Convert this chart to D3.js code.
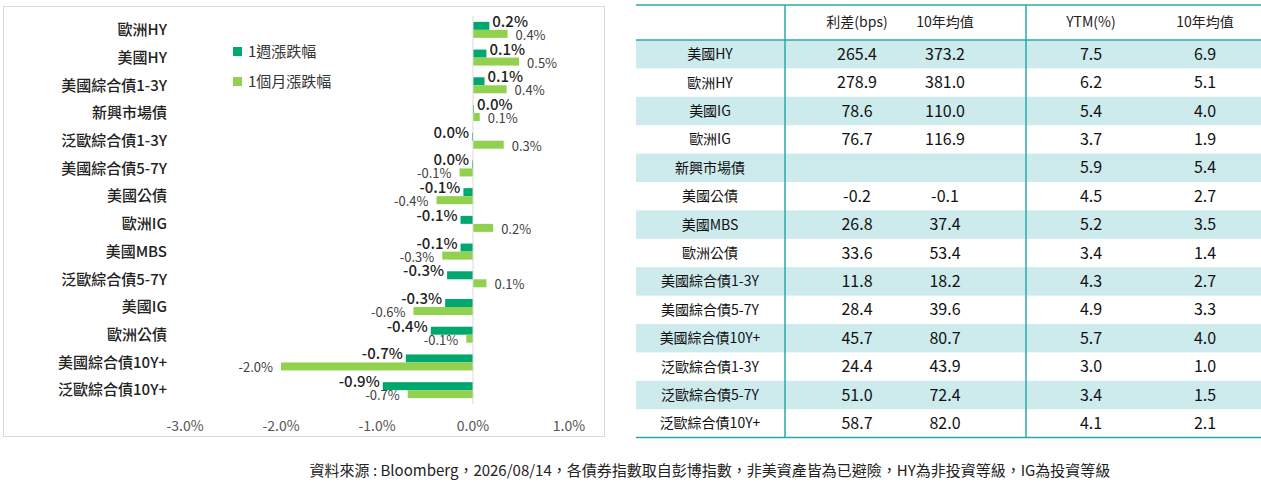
<!DOCTYPE html>
<meta charset="utf-8">
<script src="https://d3js.org/d3.v7.min.js"></script>
<style>
body{margin:0;background:#fff;font-family:"Noto Sans CJK TC","Noto Sans",sans-serif;}
svg{display:block}
</style>
<body>
<svg id="c" width="1261" height="484"></svg>
<script>
// chart data
const categories = ["歐洲HY","美國HY","美國綜合債1-3Y","新興市場債","泛歐綜合債1-3Y","美國綜合債5-7Y","美國公債","歐洲IG","美國MBS","泛歐綜合債5-7Y","美國IG","歐洲公債","美國綜合債10Y+","泛歐綜合債10Y+"];
const weekVals = [0.17,0.14,0.12,0.01,-0.01,-0.01,-0.1,-0.13,-0.13,-0.27,-0.29,-0.44,-0.7,-0.94];
const weekLabels = ["0.2%","0.1%","0.1%","0.0%","0.0%","0.0%","-0.1%","-0.1%","-0.1%","-0.3%","-0.3%","-0.4%","-0.7%","-0.9%"];
const monthVals = [0.36,0.48,0.35,0.07,0.32,-0.14,-0.38,0.21,-0.32,0.14,-0.62,-0.07,-2.0,-0.68];
const monthLabels = ["0.4%","0.5%","0.4%","0.1%","0.3%","-0.1%","-0.4%","0.2%","-0.3%","0.1%","-0.6%","-0.1%","-2.0%","-0.7%"];
const xTicks = [-3,-2,-1,0,1];
const seriesNames = ["1週漲跌幅","1個月漲跌幅"];

// table data
const tableHeader = ["","利差(bps)","10年均值","YTM(%)","10年均值"];
const tableRows = ["美國HY","歐洲HY","美國IG","歐洲IG","新興市場債","美國公債","美國MBS","歐洲公債","美國綜合債1-3Y","美國綜合債5-7Y","美國綜合債10Y+","泛歐綜合債1-3Y","泛歐綜合債5-7Y","泛歐綜合債10Y+"];
const spread = ["265.4","278.9","78.6","76.7","","-0.2","26.8","33.6","11.8","28.4","45.7","24.4","51.0","58.7"];
const spreadAvg = ["373.2","381.0","110.0","116.9","","-0.1","37.4","53.4","18.2","39.6","80.7","43.9","72.4","82.0"];
const ytm = ["7.5","6.2","5.4","3.7","5.9","4.5","5.2","3.4","4.3","4.9","5.7","3.0","3.4","4.1"];
const ytmAvg = ["6.9","5.1","4.0","1.9","5.4","2.7","3.5","1.4","2.7","3.3","4.0","1.0","1.5","2.1"];

const svg = d3.select("#c");
const dark = "#00a870", light = "#92d050";

// left chart
svg.append("rect").attr("x",3.5).attr("y",6.5).attr("width",601).attr("height",430)
  .attr("fill","none").attr("stroke","#d9d9d9");
const x = d3.scaleLinear().domain([-3,1]).range([185,569]);
const y = d3.scaleBand().domain(categories).range([16,404]);
const bh = 8;
const g = svg.append("g");
g.selectAll(".lab").data(categories).join("text")
  .attr("x",167).attr("y",d=>y(d)+y.bandwidth()/2).attr("dy","0.35em")
  .attr("text-anchor","end").attr("font-size",15).attr("font-weight",500).attr("fill","#222").text(d=>d);
g.selectAll(".wb").data(weekVals).join("rect")
  .attr("x",v=>x(Math.min(0,v))).attr("width",v=>Math.abs(x(v)-x(0)))
  .attr("y",(v,i)=>y(categories[i])+y.bandwidth()/2-bh).attr("height",bh).attr("fill",dark);
g.selectAll(".mb").data(monthVals).join("rect")
  .attr("x",v=>x(Math.min(0,v))).attr("width",v=>Math.abs(x(v)-x(0)))
  .attr("y",(v,i)=>y(categories[i])+y.bandwidth()/2).attr("height",bh).attr("fill",light);
g.append("line").attr("x1",x(0)).attr("x2",x(0)).attr("y1",16).attr("y2",404).attr("stroke","#d9d9d9");
g.selectAll(".wl").data(weekVals).join("text")
  .attr("x",v=>v>=0?x(v)+3:x(v)-3).attr("text-anchor",v=>v>=0?"start":"end")
  .attr("y",(v,i)=>y(categories[i])+y.bandwidth()/2-3).attr("font-size",15).attr("font-weight",500)
  .attr("fill","#222").text((v,i)=>weekLabels[i]);
g.selectAll(".ml").data(monthVals).join("text")
  .attr("x",v=>v>=0?x(v)+8:x(v)-8).attr("text-anchor",v=>v>=0?"start":"end")
  .attr("y",(v,i)=>y(categories[i])+y.bandwidth()/2+10).attr("font-size",13)
  .attr("fill","#404040").text((v,i)=>monthLabels[i]);
g.selectAll(".tk").data(xTicks).join("text")
  .attr("x",d=>x(d)).attr("y",431).attr("text-anchor","middle").attr("font-size",14)
  .attr("fill","#555").text(d=>d.toFixed(1)+"%");
const lg = g.selectAll(".lg").data(seriesNames).join("g")
  .attr("transform",(d,i)=>`translate(233,${52+i*30})`);
lg.append("rect").attr("x",0).attr("y",-5).attr("width",9).attr("height",9).attr("fill",(d,i)=>i?light:dark);
lg.append("text").attr("x",15).attr("dy","0.35em").attr("font-size",15).attr("fill","#333").text(d=>d);

// table
const colX = [710,857,945,1091,1205];
const tTop = 5, headH = 35, rowH = 28.4;
const t = svg.append("g");
tableRows.forEach((r,i)=>{
  if(i%2===0) t.append("rect").attr("x",636).attr("y",tTop+headH+i*rowH).attr("width",625).attr("height",rowH).attr("fill","#cdeaed");
});
tableHeader.forEach((h,j)=>t.append("text").attr("x",colX[j]).attr("y",tTop+headH/2).attr("dy","0.35em")
  .attr("text-anchor","middle").attr("font-size",14).attr("fill","#222").text(h));
const cols = [tableRows,spread,spreadAvg,ytm,ytmAvg];
tableRows.forEach((r,i)=>{
  cols.forEach((c,j)=>t.append("text").attr("x",colX[j]).attr("y",tTop+headH+i*rowH+rowH/2).attr("dy","0.35em")
    .attr("text-anchor","middle").attr("font-size",j?16:14).attr("fill","#111").text(c[i]));
});
const tBottom = tTop+headH+tableRows.length*rowH;
[tTop,tTop+headH,tBottom].forEach(yy=>t.append("line").attr("x1",636).attr("x2",1261).attr("y1",yy).attr("y2",yy).attr("stroke","#2aa8a8").attr("stroke-width",1.5));
[785,1026].forEach(xx=>t.append("line").attr("x1",xx).attr("x2",xx).attr("y1",tTop).attr("y2",tBottom).attr("stroke","#2aa8a8").attr("stroke-width",1.5));

svg.append("text").attr("x",710).attr("y",476).attr("text-anchor","middle").attr("font-size",15).attr("fill","#222")
  .text("資料來源 : Bloomberg，2026/08/14，各債券指數取自彭博指數，非美資產皆為已避險，HY為非投資等級，IG為投資等級");
</script>
</body>
